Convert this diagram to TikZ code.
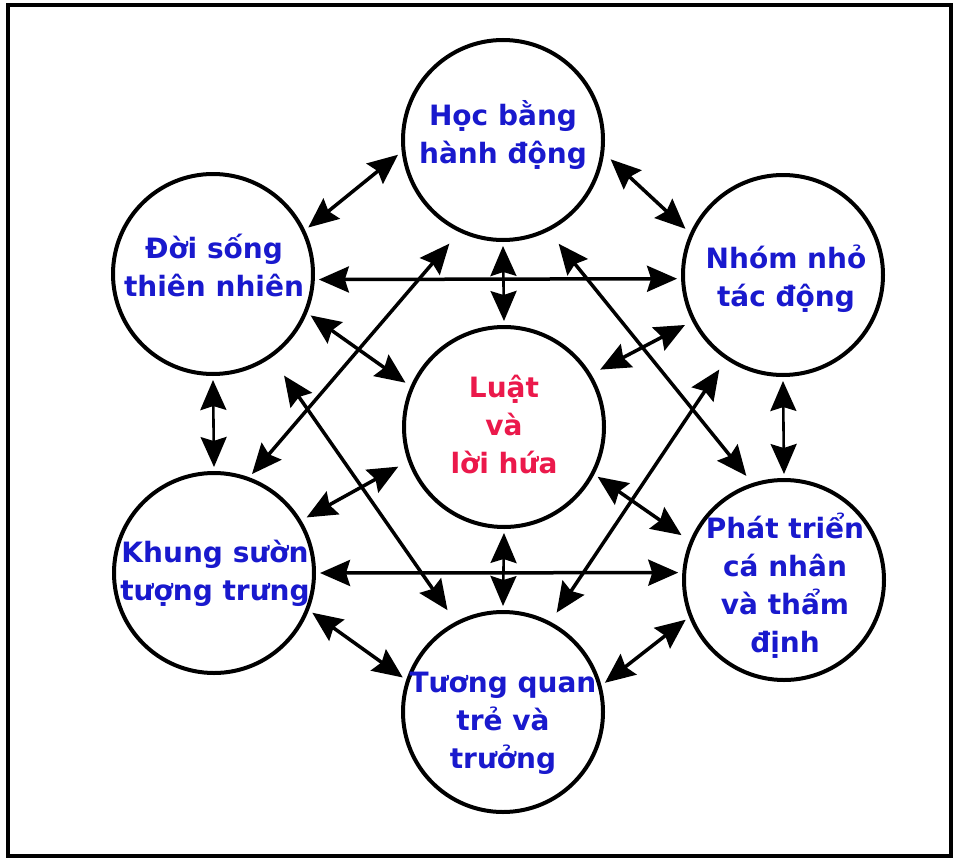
\documentclass[tikz,border=0pt]{standalone}
\usepackage{fontspec}
\setmainfont{DejaVu Sans}
\usetikzlibrary{arrows.meta}
\definecolor{lblblue}{RGB}{25,25,205}
\definecolor{lblred}{RGB}{235,25,75}
\begin{document}
\begin{tikzpicture}[x=1pt,y=-1pt,
  circ/.style={circle,draw,line width=4pt,minimum size=200pt,inner sep=0pt,outer sep=6pt},
  lbl/.style={anchor=base,font=\fontsize{28}{38}\selectfont\bfseries,text=lblblue,inner sep=0pt},
  link/.style={line width=3.5pt,{Stealth[length=30pt,width=26pt,inset=4pt]}-{Stealth[length=30pt,width=26pt,inset=4pt]}},
  vlink/.style={link,line width=2.6pt}]
\useasboundingbox (0,0) rectangle (961,859);
\draw[line width=3.5pt] (8,5) rectangle (951,856);

% circles
\node[circ] (T)  at (503,140) {};
\node[circ] (C)  at (504,427) {};
\node[circ] (B)  at (503,712) {};
\node[circ] (UL) at (213,274) {};
\node[circ] (LL) at (214,573) {};
\node[circ] (UR) at (783,275) {};
\node[circ] (LR) at (784,580) {};

% labels
\node[lbl] (Tt)  at (503,125) {\begin{tabular}[t]{@{}c@{}}Học bằng\\hành động\end{tabular}};
\node[lbl,text=lblred] (Ct) at (504,397) {\begin{tabular}[t]{@{}c@{}}Luật\\và\\lời hứa\end{tabular}};
\node[lbl] (Bt)  at (503,692) {\begin{tabular}[t]{@{}c@{}}Tương quan\\trẻ và\\trưởng\end{tabular}};
\node[lbl] (ULt) at (214,258) {\begin{tabular}[t]{@{}c@{}}Đời sống\\thiên nhiên\end{tabular}};
\node[lbl] (URt) at (786,268) {\begin{tabular}[t]{@{}c@{}}Nhóm nhỏ\\tác động\end{tabular}};
\node[lbl] (LLt) at (215,562) {\begin{tabular}[t]{@{}c@{}}Khung sườn\\tượng trưng\end{tabular}};
\node[lbl] (LRt) at (785,538) {\begin{tabular}[t]{@{}c@{}}Phát triển\\cá nhân\\và thẩm\\định\end{tabular}};

% connectors
\draw[link] (UL.26) -- (T.188);
\draw[link,shorten <=4pt,shorten >=2pt] (T.351) -- (UR.155);
\draw[vlink] (T.270) -- (C.90);
\draw[link] (UL.357) -- (UR.182);
\draw[link,shorten >=2pt] (UL.337) -- (C.156);
\draw[link,shorten <=4pt,shorten >=6pt] (UR.207) -- (C.31);
\draw[vlink] (UL.270) -- (LL.90);
\draw[vlink] (UR.270) -- (LR.90);
\draw[link,shorten <=11pt] (T.244) -- (LL.69);
\draw[link,shorten <=12pt,shorten >=5pt] (T.297) -- (LR.109);
\draw[link,shorten <=18pt,shorten >=10pt] (UL.305.5) -- (B.118);
\draw[link,shorten <=8pt,shorten >=7pt] (UR.236.5) -- (B.62.5);
\draw[link,shorten <=2pt,shorten >=7pt] (LL.31) -- (C.200);
\draw[link,shorten >=6pt] (C.332) -- (LR.157.5);
\draw[link] (LL.0.5) -- (LR.176);
\draw[vlink] (C.270) -- (B.90);
\draw[link] (LL.338.5) -- (B.161);
\draw[link] (LR.202) -- (B.16);
\end{tikzpicture}
\end{document}
